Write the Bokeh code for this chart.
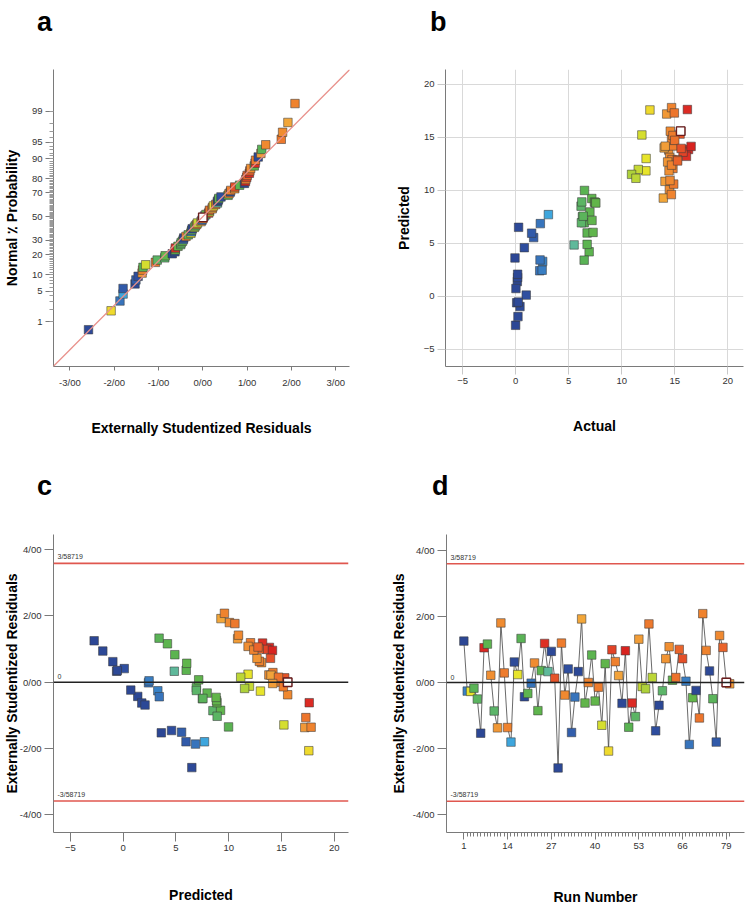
import math
from statistics import NormalDist

from bokeh.plotting import figure
from bokeh.models import (ColumnDataSource, FixedTicker, Span, Slope, Label, Div,
                          LinearColorMapper, CDSView, IndexFilter, Range1d)
from bokeh.layouts import column, row
from bokeh.embed import file_html
from bokeh.resources import INLINE

# ---------------- data ----------------
run = list(range(1, 81))
residual = [1.25, -0.26, -0.27, -0.17, -0.50, -1.53, 1.05, 1.16, 0.22, -0.86,
            -1.37, 1.80, 0.29, -1.36, -1.80, 0.62, 0.24, 1.33, -0.43, -0.33,
            -0.02, 0.59, -0.85, 0.36, 1.18, 0.33, 0.94, 0.13, -2.58, 1.19,
            -0.38, 0.41, -1.51, -0.44, 0.33, 1.92, -0.62, 0.00, 0.83, -0.56,
            -0.14, -1.29, 0.57, -2.07, 0.99, 0.63, 0.21, -0.63, 0.96, -1.35,
            -0.62, -1.03, 1.31, -0.12, -0.19, 1.77, 0.15, -1.46, -0.69, -0.25,
            0.72, 1.08, 0.07, 0.15, 1.00, 0.72, 0.04, -1.87, -0.46, -0.24,
            -1.07, 2.08, 0.97, 0.35, -0.49, -1.80, 1.42, 1.06, 0.00, -0.04]
predicted = [-2.75, 3.28, 13.00, 6.93, 7.50, 3.61, 13.85, 4.19, 13.80, 8.50,
             17.20, 10.06, 14.18, 17.80, 7.70, -0.98, 11.83, 3.40, 1.38, 7.95,
             2.40, 13.10, 9.22, 5.97, 13.20, 4.84, -1.93, 15.30, 6.50, 12.06,
             15.58, 0.10, 5.53, 3.42, -0.62, 9.26, 8.88, 14.75, 4.89, 8.84,
             15.17, 15.22, 6.02, 17.58, 13.60, 12.90, 14.00, 1.76, 14.14, 9.98,
             17.62, 8.90, 10.84, 11.96, 11.50, 10.58, 11.13, 4.58, 2.07, 6.93,
             12.67, 11.83, 7.15, 14.71, 12.88, 13.95, 2.45, 6.85, 8.80, 0.72,
             17.30, 9.59, 12.37, -0.56, 7.55, 5.95, 10.92, 12.77, 15.58, 14.16]
actual = [0.00, 2.55, 12.30, 6.46, 6.30, -0.06, 16.30, 6.93, 14.43, 6.17,
          14.24, 14.49, 14.83, 14.70, 3.09, 0.41, 12.28, 6.46, 0.16, 7.00,
          2.27, 14.52, 7.18, 6.74, 16.10, 5.51, 0.22, 15.50, 0.28, 14.83,
          14.58, 1.00, 1.70, 2.30, 0.10, 13.92, 7.43, 14.70, 6.74, 7.50,
          14.83, 11.90, 7.30, 12.66, 15.78, 14.74, 14.00, 0.19, 16.54, 6.49,
          16.19, 6.24, 14.08, 11.56, 10.93, 14.90, 11.34, 0.82, 0.19, 6.20,
          14.33, 14.46, 7.20, 15.00, 15.24, 15.60, 2.50, 2.33, 7.56, 0.03,
          14.96, 14.68, 14.70, 0.25, 6.37, 1.51, 14.55, 15.27, 15.56, 14.10]
highlight_run = 79
limit = 3.58719
prob_major = [1, 5, 10, 20, 30, 50, 70, 80, 90, 95, 99]
prob_minor = list(range(1, 100))
resid_ticks = [-3, -2, -1, 0, 1, 2, 3]
stud_ticks = [-4, -2, 0, 2, 4]
value_ticks = [-5, 0, 5, 10, 15, 20]
run_ticks = [1, 14, 27, 40, 53, 66, 79]
ref_slope = 0.98
panel_letters = ["a", "b", "c", "d"]

# ---------------- styling helpers ----------------
FONT = "Liberation Sans"
anchors = [(0.0, "#2c4795"), (1.0, "#2f4fa0"), (2.0, "#3465b2"), (2.6, "#3a85c8"),
           (3.2, "#3fb0e4"), (4.5, "#52b8b8"), (5.5, "#5fb99a"), (6.5, "#5ab352"),
           (8.0, "#66b747"), (10.5, "#9fcb3e"), (11.5, "#c2d835"), (12.4, "#ece52a"),
           (13.3, "#f5c233"), (14.0, "#f2a33a"), (14.7, "#ef842e"), (15.4, "#e95e2a"),
           (16.2, "#dc2b24"), (16.6, "#d8231f")]


def hex2rgb(h):
    return tuple(int(h[i:i + 2], 16) for i in (1, 3, 5))


def build_palette(n=256, lo=0.0, hi=16.6):
    pal = []
    for k in range(n):
        v = lo + (hi - lo) * k / (n - 1)
        for (a, ca), (b, cb) in zip(anchors[:-1], anchors[1:]):
            if a <= v <= b:
                t = (v - a) / (b - a) if b > a else 0
                r1, g1, b1 = hex2rgb(ca)
                r2, g2, b2 = hex2rgb(cb)
                pal.append("#%02x%02x%02x" % (round(r1 + (r2 - r1) * t),
                                              round(g1 + (g2 - g1) * t),
                                              round(b1 + (b2 - b1) * t)))
                break
    return pal


cmap = LinearColorMapper(palette=build_palette(), low=0.0, high=16.6)
FILL = {"field": "actual", "transform": cmap}


def fmt_slash(v):
    return ("%.2f" % v).replace(".", "/") if isinstance(v, int) else str(v).replace(".", "/")


def letters_div(items, height):
    spans = "".join(
        '<span style="position:absolute; left:%dpx; top:%dpx; font-family:\'Liberation Sans\', Arial, sans-serif; '
        'font-weight:bold; font-size:27px; line-height:normal; color:black;">%s</span>' % (x, t, ch)
        for ch, x, t in items)
    return Div(text='<div style="position:relative; width:754px; height:%dpx;">%s</div>' % (height, spans),
               width=754, height=height, margin=0)


def make_fig(w, h, left, right, top, bottom, xr, yr, xlabel, x_so, ylabel, y_so):
    p = figure(width=w, height=h, x_range=Range1d(*xr), y_range=Range1d(*yr),
               output_backend="svg", toolbar_location=None,
               min_border_left=left, min_border_right=right,
               min_border_top=top, min_border_bottom=bottom)
    p.outline_line_color = None
    p.background_fill_color = "white"
    p.border_fill_color = "white"
    p.xgrid.grid_line_color = None
    p.ygrid.grid_line_color = None
    for ax in (p.xaxis[0], p.yaxis[0]):
        ax.axis_line_color = "#7a7a7a"
        ax.axis_line_width = 1
        ax.major_tick_line_color = "#7a7a7a"
        ax.minor_tick_line_color = None
        ax.major_tick_in = 0
        ax.major_tick_out = 8
        ax.major_label_text_font = FONT
        ax.major_label_text_font_size = "9.5px"
        ax.major_label_text_color = "#333333"
        ax.major_label_standoff = 3
        ax.axis_label_text_font = FONT
        ax.axis_label_text_font_style = "bold"
        ax.axis_label_text_font_size = "14px"
        ax.axis_label_text_color = "black"
    p.xaxis.axis_label = xlabel
    p.xaxis.axis_label_standoff = x_so
    p.yaxis.axis_label = ylabel
    p.yaxis.axis_label_standoff = y_so
    return p


source = ColumnDataSource(dict(run=run, residual=residual, predicted=predicted, actual=actual))
hl_index = run.index(highlight_run)
MS = 8.5


def points(p, xcol, ycol, src, hl):
    p.scatter(xcol, ycol, source=src, marker="square", size=MS,
              fill_color=FILL, line_color="#3a3a3a", line_alpha=0.55, line_width=1)
    p.scatter(xcol, ycol, source=src, view=CDSView(filter=IndexFilter([hl])),
              marker="square", size=MS, fill_color="white", line_color="#6b1d1d", line_width=1.4)


# ---------------- panel a: normal probability ----------------
nd = NormalDist()
n = len(residual)
order = sorted(range(n), key=lambda i: residual[i])
z_sorted = [nd.inv_cdf((k + 0.5) / n) for k in range(n)]
src_a = ColumnDataSource(dict(residual=[residual[i] for i in order],
                              actual=[actual[i] for i in order],
                              z=z_sorted))
pa = make_fig(377, 400, 51, 28, 29, 72, (-3.37, 3.31), (-3.31, 3.25),
              "Externally Studentized Residuals", 29, "Normal \u066a Probability", 9)
pa.add_layout(Slope(gradient=ref_slope, y_intercept=0, line_color="#e8908a", line_width=1.3))
points(pa, "residual", "z", src_a, order.index(hl_index))
zmaj = [round(nd.inv_cdf(q / 100), 6) for q in prob_major]
zmin = [round(nd.inv_cdf(q / 100), 6) for q in prob_minor]
pa.yaxis.ticker = FixedTicker(ticks=zmaj, minor_ticks=zmin)
pa.yaxis.major_label_overrides = {z: str(q) for z, q in zip(zmaj, prob_major)}
pa.yaxis.minor_tick_line_color = "#9a9a9a"
pa.yaxis.minor_tick_in = 0
pa.yaxis.minor_tick_out = 4
pa.xaxis.ticker = FixedTicker(ticks=resid_ticks)
pa.xaxis.major_label_overrides = {v: fmt_slash(v) for v in resid_ticks}
pa.xaxis.major_tick_out = 4
pa.xaxis.major_label_standoff = 6

# ---------------- panel b: predicted vs actual ----------------
pb = make_fig(377, 400, 68, 11, 29, 74, (-6.61, 21.48), (-6.64, 21.4),
              "Actual", 31, "Predicted", 9)
pb.xaxis.ticker = FixedTicker(ticks=value_ticks)
pb.yaxis.ticker = FixedTicker(ticks=value_ticks)
pb.xgrid.ticker = FixedTicker(ticks=value_ticks)
pb.ygrid.ticker = FixedTicker(ticks=value_ticks)
pb.xgrid.grid_line_color = "#d9d9d9"
pb.ygrid.grid_line_color = "#d9d9d9"
for ax in (pb.xaxis[0], pb.yaxis[0]):
    ax.major_tick_line_color = "#c8c8c8"
points(pb, "actual", "predicted", source, hl_index)


# ---------------- panels c, d: residual plots ----------------
def limit_lines(p):
    for loc in (limit, -limit):
        p.add_layout(Span(location=loc, dimension="width", line_color="#e0574f", line_width=1.6))
    p.add_layout(Span(location=0, dimension="width", line_color="#222222", line_width=1.5))
    for loc in (limit, 0, -limit):
        txt = "0" if loc == 0 else str(loc).replace(".", "/")
        p.add_layout(Label(x=p.x_range.start, y=loc, x_offset=4, y_offset=3, text=txt,
                           text_font=FONT, text_font_size="7px", text_color="#333333",
                           text_baseline="bottom", text_align="left"))
    p.yaxis.ticker = FixedTicker(ticks=stud_ticks)
    p.yaxis.major_label_overrides = {v: fmt_slash(v) for v in stud_ticks}
    p.yaxis.major_tick_out = 9


pc = make_fig(377, 398, 50, 29, 24, 74, (-6.6, 21.34), (-4.54, 4.46),
              "Predicted", 33, "Externally Studentized Residuals", -3)
limit_lines(pc)
pc.xaxis.ticker = FixedTicker(ticks=value_ticks)
pc.xaxis.major_tick_out = 9
points(pc, "predicted", "residual", source, hl_index)

pd_ = make_fig(377, 398, 69, 10, 24, 76, (-4.16, 84.4), (-4.53, 4.47),
               "Run Number", 37, "Externally Studentized Residuals", 3)
limit_lines(pd_)
pd_.xaxis.ticker = FixedTicker(ticks=run_ticks, minor_ticks=run)
pd_.xaxis.major_tick_out = 7
pd_.xaxis.minor_tick_line_color = "#7a7a7a"
pd_.xaxis.minor_tick_in = 0
pd_.xaxis.minor_tick_out = 4
pd_.line("run", "residual", source=source, line_color="#444444", line_width=0.8)
points(pd_, "run", "residual", source, hl_index)

top_letters = letters_div([(panel_letters[0], 37, 7), (panel_letters[1], 430, 7)], 40)
bottom_letters = letters_div([(panel_letters[2], 37, 31), (panel_letters[3], 432, 31)], 70)

layout = column(top_letters, row(pa, pb, spacing=0),
                bottom_letters, row(pc, pd_, spacing=0), spacing=0)
open("out.html", "w").write(file_html(layout, INLINE))
